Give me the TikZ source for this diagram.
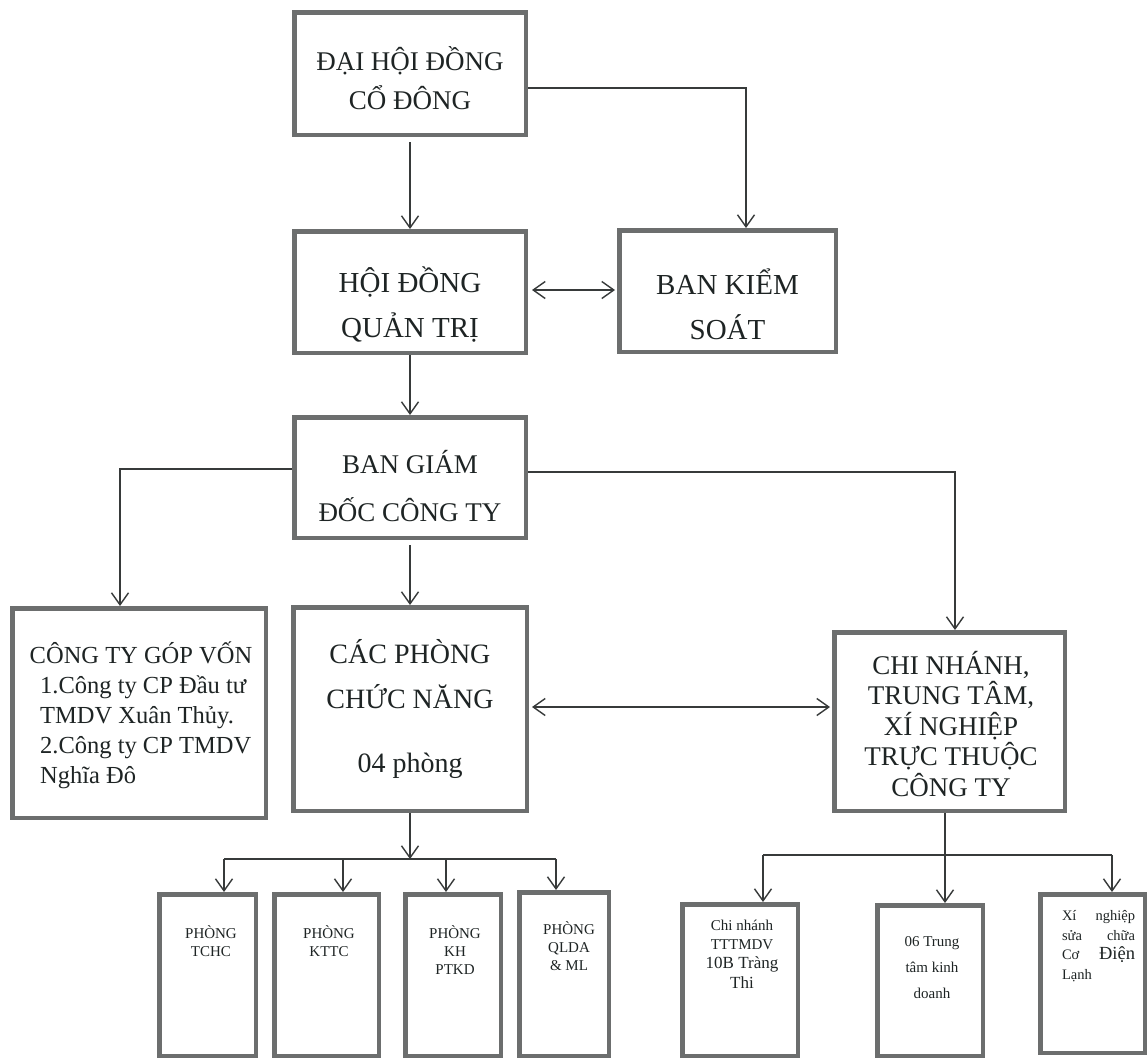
\documentclass[tikz,border=0pt]{standalone}
\usepackage{fontspec}
\setmainfont{Liberation Serif}
\usetikzlibrary{arrows.meta}
\definecolor{bordergray}{RGB}{108,110,110}
\definecolor{linegray}{RGB}{55,58,58}
\definecolor{ink}{RGB}{30,36,36}
\tikzset{
  box/.style={draw=bordergray, line width=4.5pt, inner sep=0pt, fill=white},
  conn/.style={draw=linegray, line width=1.4pt},
  arr/.style={conn, -{Straight Barb[length=12pt,width=17pt]}},
  darr/.style={conn, {Straight Barb[length=12pt,width=17pt]}-{Straight Barb[length=12pt,width=17pt]}},
  txt/.style={text=ink, inner sep=0pt, align=center},
  big/.style={font=\fontsize{27}{39}\selectfont},
  small/.style={font=\fontsize{15}{18}\selectfont},
}
\begin{document}
\begin{tikzpicture}[x=1pt,y=-1pt]
\useasboundingbox[fill=white] (0,0) rectangle (1148,1061);

% boxes
\node[box, minimum width=231.5pt, minimum height=122.5pt] (dh)   at (410,73.5)  {};
\node[box, minimum width=231.5pt, minimum height=121.5pt] (hd)   at (410,292)   {};
\node[box, minimum width=216.5pt, minimum height=121.5pt] (bks)  at (727.5,291) {};
\node[box, minimum width=231.5pt, minimum height=120.5pt] (bgd)  at (410,477.5) {};
\node[box, minimum width=253.5pt, minimum height=209.5pt] (ctgv) at (139,713)   {};
\node[box, minimum width=233.5pt, minimum height=203.5pt] (cpcn) at (410,709)   {};
\node[box, minimum width=230.5pt, minimum height=178.5pt] (cn)   at (949.5,721.5) {};
\node[box, minimum width=96.5pt,  minimum height=161.5pt] (tchc) at (207.5,975) {};
\node[box, minimum width=104.5pt, minimum height=161.5pt] (kttc) at (326.5,975) {};
\node[box, minimum width=95.5pt,  minimum height=161.5pt] (kh)   at (453,975)   {};
\node[box, minimum width=89.5pt,  minimum height=163.5pt] (qlda) at (564,974)   {};
\node[box, minimum width=115.5pt, minimum height=151.5pt] (cnh)  at (740,980)   {};
\node[box, minimum width=105.5pt, minimum height=150.5pt] (ttkd) at (930,980.5) {};
\node[box, minimum width=104.5pt, minimum height=158.5pt] (xn)   at (1092.5,973.5) {};

% texts
\node[txt, big] (tdh) at (410,78) {ĐẠI HỘI ĐỒNG\\CỔ ĐÔNG};
\node[txt, font=\fontsize{29}{45}\selectfont] (thd) at (410,304.5) {HỘI ĐỒNG\\QUẢN TRỊ};
\node[txt, font=\fontsize{29}{45}\selectfont] (tbks) at (727.5,304.5) {BAN KIỂM\\SOÁT};
\node[txt, font=\fontsize{27}{48}\selectfont] (tbgd) at (410,486) {BAN GIÁM\\ĐỐC CÔNG TY};
\node[txt, font=\fontsize{24.5}{30}\selectfont] (tctgvh) at (141,653) {CÔNG TY GÓP VỐN};
\node[txt, align=left, anchor=west, font=\fontsize{24.5}{30}\selectfont] (tctgv) at (40,732)
  {1.Công ty CP Đầu tư\\TMDV Xuân Thủy.\\2.Công ty CP TMDV\\Nghĩa Đô};
\node[txt, font=\fontsize{28}{45}\selectfont] (tcpcn) at (410,674.5) {CÁC PHÒNG\\CHỨC NĂNG};
\node[txt, font=\fontsize{28}{34}\selectfont] (tcpcn2) at (410,766) {04 phòng};
\node[txt, font=\fontsize{27}{30.5}\selectfont] (tcn) at (951,724) {CHI NHÁNH,\\TRUNG TÂM,\\XÍ NGHIỆP\\TRỰC THUỘC\\CÔNG TY};
\node[txt, small] (ttchc) at (211,941) {PHÒNG\\TCHC};
\node[txt, small] (tkttc) at (329,941) {PHÒNG\\KTTC};
\node[txt, small] (tkh) at (455,950) {PHÒNG\\KH\\PTKD};
\node[txt, small] (tqlda) at (569,946) {PHÒNG\\QLDA\\\& ML};
\node[txt, font=\fontsize{15}{18.5}\selectfont] (tcnh1) at (742,935) {Chi nhánh\\TTTMDV};
\node[txt, font=\fontsize{17}{20}\selectfont] (tcnh2) at (742,973) {10B Tràng\\Thi};
\node[txt, font=\fontsize{15}{26}\selectfont] (tttkd) at (932,968) {06 Trung\\tâm kinh\\doanh};
\node[txt, align=left, text width=73pt, font=\fontsize{14.5}{19.5}\selectfont] (txn) at (1098.5,946)
  {Xí\hfill nghiệp\\sửa\hfill chữa\\Cơ\hfill{\fontsize{18.5}{19.5}\selectfont Điện}\\Lạnh};

% connectors
\coordinate (k1) at (746,88);
\draw[arr] (dh.east|-k1) -- (k1) -- (k1|-bks.north);
\draw[arr, shorten <=5pt] (dh.south) -- (hd.north);
\coordinate (k2) at (570,290);
\draw[darr, shorten <=4pt, shorten >=2pt] (hd.east|-k2) -- (bks.west|-k2);
\draw[arr] (hd.south) -- (bgd.north);
\coordinate (k3) at (120,469);
\draw[arr] (bgd.west|-k3) -- (k3) -- (k3|-ctgv.north);
\coordinate (k4) at (955,472);
\draw[arr] (bgd.east|-k4) -- (k4) -- (k4|-cn.north);
\draw[arr, shorten <=5pt] (bgd.south) -- (cpcn.north);
\coordinate (k5) at (700,707);
\draw[darr, shorten <=3pt, shorten >=2pt] (cpcn.east|-k5) -- (cn.west|-k5);

\coordinate (j1) at (410,859);
\draw[arr] (cpcn.south) -- (j1);
\coordinate (b1) at (224,859);
\coordinate (b2) at (343,859);
\coordinate (b3) at (446,859);
\coordinate (b4) at (556,859);
\draw[conn] (b1) -- (b4);
\draw[arr] (b1) -- (b1|-tchc.north);
\draw[arr] (b2) -- (b2|-kttc.north);
\draw[arr] (b3) -- (b3|-kh.north);
\draw[arr] (b4) -- (b4|-qlda.north);

\coordinate (r1) at (763,855);
\coordinate (r2) at (945,855);
\coordinate (r3) at (1112,855);
\draw[conn] (r1) -- (r3);
\draw[arr] (r2|-cn.south) -- (r2|-ttkd.north);
\draw[arr] (r1) -- (r1|-cnh.north);
\draw[arr] (r3) -- (r3|-xn.north);
\end{tikzpicture}
\end{document}
